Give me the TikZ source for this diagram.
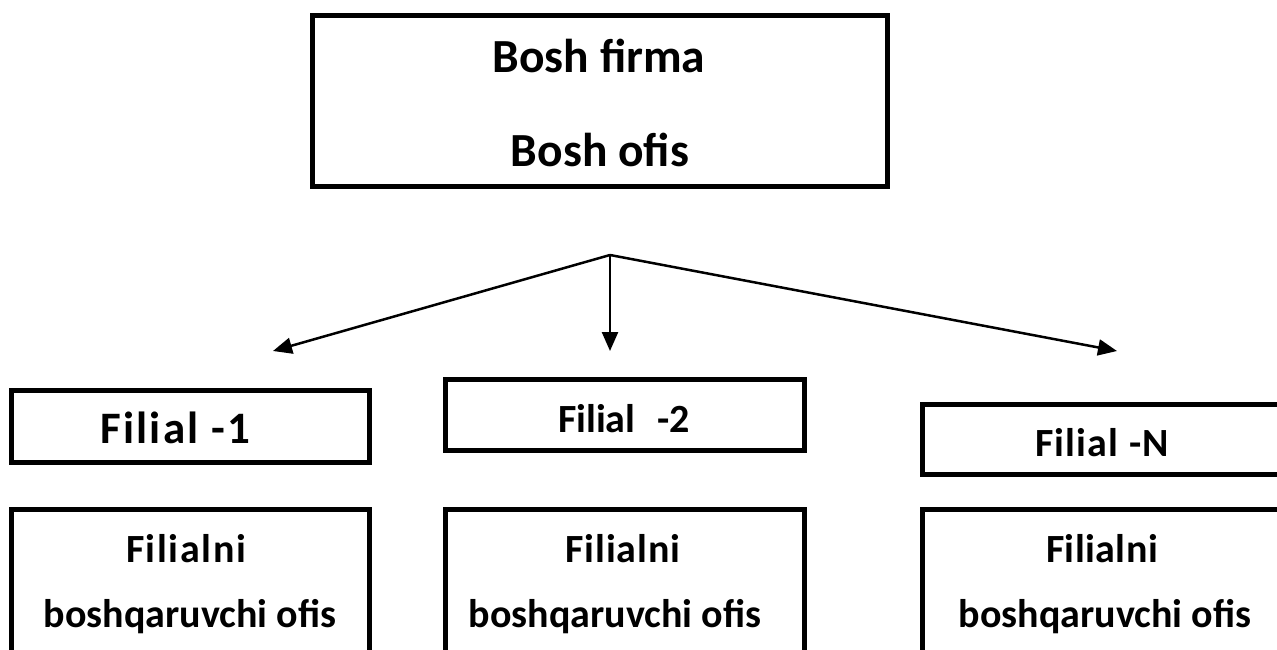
\documentclass[tikz,border=0pt]{standalone}
\usepackage{fontspec}
\setmainfont{Carlito}
\usetikzlibrary{arrows.meta}
\begin{document}
\begin{tikzpicture}[x=1pt,y=-1pt,
  box/.style={draw,line width=5pt,inner sep=0pt},
  big/.style={font=\fontsize{47.5}{50}\selectfont\bfseries,anchor=base,inner sep=0pt},
  lbl/.style={font=\fontsize{40}{44}\selectfont\bfseries,anchor=base,inner sep=0pt},
  conn/.style={line width=2.5pt,-{Triangle[length=19pt,width=16pt]}}]
\useasboundingbox (0,0) rectangle (1277,650);
\clip (0,0) rectangle (1277,650);
\fill[white] (0,0) rectangle (1277,650);
% boxes
\node[box,minimum width=575pt,minimum height=170pt] (top) at (599.5,101) {};
\node[box,minimum width=358pt,minimum height=72pt] (f1) at (190.5,426.5) {};
\node[box,minimum width=359pt,minimum height=71pt] (f2) at (625,415) {};
\node[box,minimum width=400pt,minimum height=70pt] (fn) at (1122.5,439.5) {};
\node[box,minimum width=358pt,minimum height=190pt] (o1) at (190.5,604.5) {};
\node[box,minimum width=359pt,minimum height=190pt] (o2) at (625,604.5) {};
\node[box,minimum width=400pt,minimum height=190pt] (on) at (1122.5,604.5) {};
% texts
\node[big] (t1) at (599,73) {Bosh firma};
\node[big] (t2) at (600,167) {Bosh ofis};
\node[lbl,font=\fontsize{45}{48}\selectfont\bfseries] (l1) at (175,443) {\addfontfeatures{LetterSpace=5}Filial -1};
\node[lbl] (l2) at (624,432) {Filial\hspace{0.55em}-2};
\node[lbl] (ln) at (1102,456) {\addfontfeatures{LetterSpace=3}Filial -N};
\node[lbl] (a1) at (186,562) {\addfontfeatures{LetterSpace=4}Filialni};
\node[lbl] (b1) at (190,627) {boshqaruvchi ofis};
\node[lbl] (a2) at (623,562) {\addfontfeatures{LetterSpace=2}Filialni};
\node[lbl] (b2) at (615,627) {boshqaruvchi ofis};
\node[lbl] (an) at (1102,562) {\addfontfeatures{LetterSpace=1}Filialni};
\node[lbl] (bn) at (1105,627) {boshqaruvchi ofis};
% connectors
\coordinate (hub) at (610,255);
\coordinate (e1) at (273,351);
\coordinate (e2) at (610,351);
\coordinate (en) at (1117,351);
\draw[conn] (hub) -- (e1);
\draw[conn] (hub) -- (e2);
\draw[conn] (hub) -- (en);
\end{tikzpicture}
\end{document}
